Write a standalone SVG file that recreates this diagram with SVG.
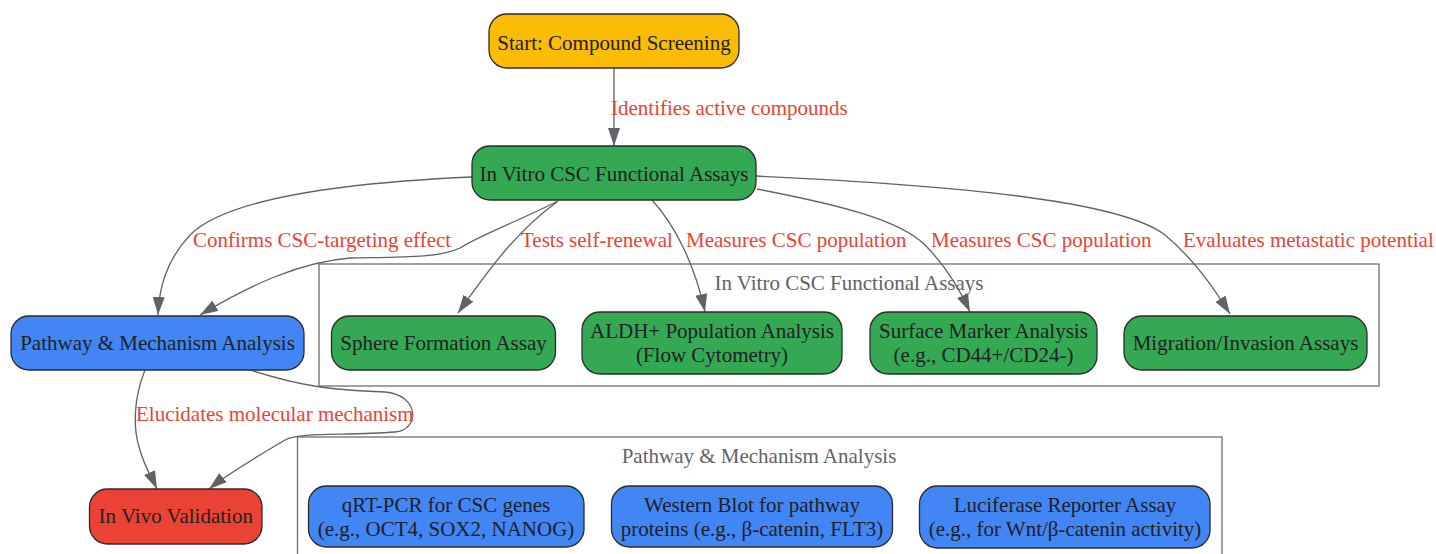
<svg xmlns="http://www.w3.org/2000/svg" width="1436" height="554" viewBox="0 0 1436 554">
<style>
text{font-family:"Liberation Serif","Times New Roman",serif;font-size:21px}
.n{stroke:#2b2b2b;stroke-width:1.3}
.nt{fill:#202124;text-anchor:middle}
.y{fill:#FBBC05}.g{fill:#34A853}.b{fill:#4285F4}.r{fill:#EA4335}
.cl{fill:none;stroke:#6b6e72;stroke-width:1.3}
.ct{fill:#5F6368;text-anchor:middle}
.e{fill:none;stroke:#5F6368;stroke-width:1.3;marker-end:url(#ah)}
.el{fill:#EA4335}
</style>
<defs>
<marker id="ah" markerUnits="userSpaceOnUse" markerWidth="20" markerHeight="14" refX="18" refY="6" orient="auto">
<path d="M0,0 L18,6 L0,12 z" fill="#5F6368"/>
</marker>
</defs>
<g id="clusters">
<g id="cluster_invitro"><rect class="cl" x="319" y="264" width="1060" height="122"/><text class="ct" x="849" y="290">In Vitro CSC Functional Assays</text></g>
<g id="cluster_pathway"><rect class="cl" x="297.5" y="437" width="924.5" height="130"/><text class="ct" x="759" y="463">Pathway &amp; Mechanism Analysis</text></g>
</g>
<g id="edges">
<path class="e" d="M614,68 L614,146"/>
<path class="e" d="M472,177 C360,182 230,195 190,235 C165,262 159,290 158,315"/>
<path class="e" d="M558,201 C510,225 480,235 460,248 C440,258 400,257 350,258 C300,262 250,285 200,315"/>
<path class="e" d="M557,202 C515,232 485,275 458,313"/>
<path class="e" d="M652,200 C675,225 695,265 705,312"/>
<path class="e" d="M757,189 C840,205 900,220 925,245 C945,265 960,290 970,312"/>
<path class="e" d="M756,176 C950,185 1120,200 1165,235 C1195,260 1215,290 1230,314"/>
<path class="e" d="M145,370 C133,400 133,430 140,450 C145,468 152,478 157,489"/>
<path class="e" d="M250,370 C300,386 330,390 385,392 C420,395 420,430 395,432 C345,436 300,432 285,440 C260,455 230,472 209,489"/>
<text class="el" x="611" y="115">Identifies active compounds</text>
<text class="el" x="193" y="247">Confirms CSC-targeting effect</text>
<text class="el" x="521" y="247">Tests self-renewal</text>
<text class="el" x="686" y="247">Measures CSC population</text>
<text class="el" x="931" y="247">Measures CSC population</text>
<text class="el" x="1183" y="247">Evaluates metastatic potential</text>
<text class="el" x="136" y="421">Elucidates molecular mechanism</text>
</g>
<g id="start"><rect class="n y" x="489" y="14" width="250" height="54" rx="18"/><text class="nt" x="614" y="50">Start: Compound Screening</text></g>
<g id="invitro"><rect class="n g" x="472" y="146" width="284" height="54" rx="18"/><text class="nt" x="614" y="181">In Vitro CSC Functional Assays</text></g>
<g id="pathway"><rect class="n b" x="11" y="316" width="293" height="54" rx="18"/><text class="nt" x="157.5" y="350">Pathway &amp; Mechanism Analysis</text></g>
<g id="sphere"><rect class="n g" x="331.5" y="316" width="224" height="54" rx="18"/><text class="nt" x="443.5" y="350">Sphere Formation Assay</text></g>
<g id="aldh"><rect class="n g" x="582" y="312" width="260" height="62" rx="18"/><text class="nt" x="712" y="338">ALDH+ Population Analysis</text><text class="nt" x="712" y="362">(Flow Cytometry)</text></g>
<g id="surface"><rect class="n g" x="870" y="312" width="227" height="62" rx="18"/><text class="nt" x="983.5" y="338">Surface Marker Analysis</text><text class="nt" x="983.5" y="362">(e.g., CD44+/CD24-)</text></g>
<g id="migration"><rect class="n g" x="1124" y="316" width="243" height="54" rx="18"/><text class="nt" x="1245.5" y="350">Migration/Invasion Assays</text></g>
<g id="invivo"><rect class="n r" x="89.5" y="489" width="172.5" height="55" rx="18"/><text class="nt" x="175.75" y="523">In Vivo Validation</text></g>
<g id="qrtpcr"><rect class="n b" x="308.5" y="486" width="275.5" height="61" rx="18"/><text class="nt" x="446" y="511.5">qRT-PCR for CSC genes</text><text class="nt" x="446" y="535.5">(e.g., OCT4, SOX2, NANOG)</text></g>
<g id="western"><rect class="n b" x="611.5" y="486" width="281" height="61" rx="18"/><text class="nt" x="752" y="511.5">Western Blot for pathway</text><text class="nt" x="752" y="535.5">proteins (e.g., β-catenin, FLT3)</text></g>
<g id="luciferase"><rect class="n b" x="919.5" y="486" width="290.5" height="62" rx="18"/><text class="nt" x="1065" y="511.5">Luciferase Reporter Assay</text><text class="nt" x="1065" y="535.5">(e.g., for Wnt/β-catenin activity)</text></g>
</svg>
